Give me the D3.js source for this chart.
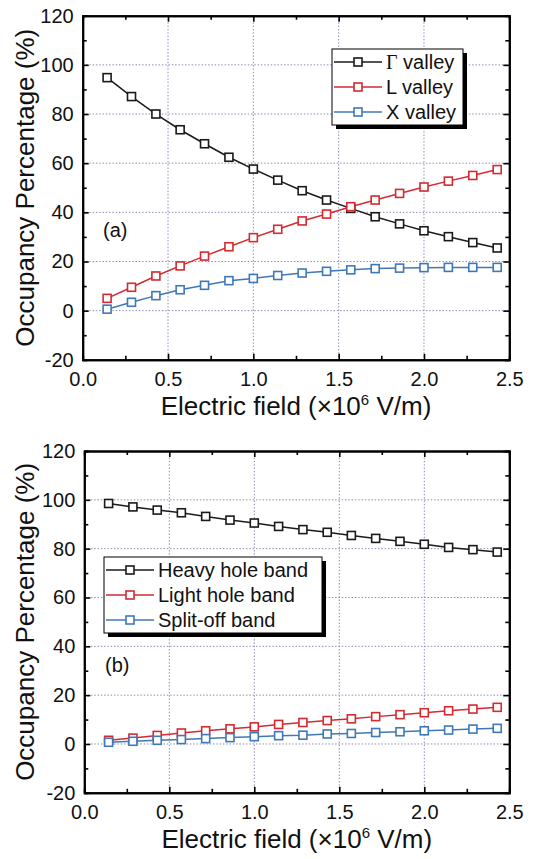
<!DOCTYPE html>
<html>
<head>
<meta charset="utf-8">
<script src="https://cdn.jsdelivr.net/npm/d3@7"></script>
<style>
  body { margin: 0; background: #fff; }
  svg { display: block; font-family: "Liberation Sans", Arial, sans-serif; }
</style>
</head>
<body>
<svg id="chart" width="541" height="859"></svg>
<script>
// electric field (x10^6 V/m)
const fieldValues = [0.143, 0.286, 0.429, 0.571, 0.714, 0.857, 1.0, 1.143, 1.286,
  1.429, 1.571, 1.714, 1.857, 2.0, 2.143, 2.286, 2.429];

// panel (a): electrons
const gammaValley = [94.8, 87.1, 80.0, 73.6, 67.9, 62.4, 57.6, 53.1, 48.8, 45.0, 41.6, 38.2, 35.3, 32.5, 30.1, 27.7, 25.5];
const lValley = [5.0, 9.5, 14.1, 18.2, 22.2, 26.0, 29.7, 33.1, 36.5, 39.3, 42.3, 45.0, 47.7, 50.3, 52.7, 55.0, 57.4];
const xValley = [0.6, 3.4, 6.1, 8.5, 10.3, 12.2, 13.1, 14.3, 15.3, 16.0, 16.6, 17.1, 17.3, 17.5, 17.6, 17.6, 17.6];

// panel (b): holes
const heavyHole = [98.5, 97.1, 95.8, 94.7, 93.2, 91.7, 90.5, 89.1, 87.8, 86.7, 85.4, 84.2, 83.0, 81.8, 80.5, 79.6, 78.6];
const lightHole = [1.5, 2.4, 3.5, 4.5, 5.4, 6.2, 7.0, 8.0, 8.8, 9.6, 10.3, 11.2, 12.0, 12.8, 13.6, 14.3, 15.0];
const splitOff = [0.7, 1.1, 1.5, 1.8, 2.2, 2.6, 3.0, 3.4, 3.6, 4.1, 4.3, 4.7, 5.0, 5.4, 5.7, 6.1, 6.4];

const xTicks = [0.0, 0.5, 1.0, 1.5, 2.0, 2.5];
const xMinorTicks = [0.25, 0.75, 1.25, 1.75, 2.25];
const yTicks = [-20, 0, 20, 40, 60, 80, 100, 120];
const yMinorTicks = [-10, 10, 30, 50, 70, 90, 110];

const colors = { black: "#1a1a1a", red: "#d42a30", blue: "#3f78b8" };

const svg = d3.select("#chart");

function drawPanel(p) {
  let g = svg.append("g");
  let x = d3.scaleLinear().domain([0, 2.5]).range([p.left, p.right]);
  let y = d3.scaleLinear().domain([-20, 120]).range([p.bottom, p.top]);

  // dotted grid
  g.append("g").selectAll("line.gx")
    .data(xTicks.slice(1, -1))
    .enter().append("line")
    .attr("x1", d => x(d)).attr("x2", d => x(d))
    .attr("y1", p.top).attr("y2", p.bottom)
    .attr("stroke", "#8d8fb5").attr("stroke-width", 1)
    .attr("stroke-dasharray", "1.5,1.8");
  g.append("g").selectAll("line.gy")
    .data(yTicks.slice(1, -1))
    .enter().append("line")
    .attr("x1", p.left).attr("x2", p.right)
    .attr("y1", d => y(d)).attr("y2", d => y(d))
    .attr("stroke", "#8d8fb5").attr("stroke-width", 1)
    .attr("stroke-dasharray", "1.5,1.8");

  // series
  let line = d3.line().x(d => x(d[0])).y(d => y(d[1]));
  p.series.forEach(s => {
    let pts = fieldValues.map((f, i) => [f, s.values[i]]);
    g.append("path")
      .datum(pts)
      .attr("d", line)
      .attr("fill", "none")
      .attr("stroke", s.color)
      .attr("stroke-width", 1.5);
    g.selectAll(null)
      .data(pts)
      .enter().append("rect")
      .attr("x", d => x(d[0]) - 4)
      .attr("y", d => y(d[1]) - 4)
      .attr("width", 8).attr("height", 8)
      .attr("fill", "#fff")
      .attr("stroke", s.color)
      .attr("stroke-width", 1.6);
  });

  // axes, ticks inward
  const styleAxis = sel => {
    sel.attr("font-family", null).attr("font-size", null);
    sel.select(".domain").attr("stroke", "#000").attr("stroke-width", 2);
    sel.selectAll(".tick line").attr("stroke", "#000").attr("stroke-width", 1.6);
    sel.selectAll("text").attr("fill", "#111").style("font-size", "20px");
  };

  g.append("g")
    .attr("transform", `translate(0,${p.bottom})`)
    .call(d3.axisBottom(x).tickValues(xTicks).tickSize(-6).tickSizeOuter(0)
      .tickPadding(12).tickFormat(d3.format(".1f")))
    .call(styleAxis);
  g.append("g")
    .attr("transform", `translate(0,${p.bottom})`)
    .call(d3.axisBottom(x).tickValues(xMinorTicks).tickSize(-4).tickFormat(""))
    .call(styleAxis);
  g.append("g")
    .attr("transform", `translate(0,${p.top})`)
    .call(d3.axisTop(x).tickValues(xTicks).tickSize(-6).tickSizeOuter(0).tickFormat(""))
    .call(styleAxis);
  g.append("g")
    .attr("transform", `translate(0,${p.top})`)
    .call(d3.axisTop(x).tickValues(xMinorTicks).tickSize(-4).tickFormat(""))
    .call(styleAxis);
  g.append("g")
    .attr("transform", `translate(${p.left},0)`)
    .call(d3.axisLeft(y).tickValues(yTicks).tickSize(-6).tickSizeOuter(0).tickPadding(9)
      .tickFormat(d => String(d)))
    .call(styleAxis);
  g.append("g")
    .attr("transform", `translate(${p.left},0)`)
    .call(d3.axisLeft(y).tickValues(yMinorTicks).tickSize(-4).tickFormat(""))
    .call(styleAxis);
  g.append("g")
    .attr("transform", `translate(${p.right},0)`)
    .call(d3.axisRight(y).tickValues(yTicks).tickSize(-6).tickSizeOuter(0).tickFormat(""))
    .call(styleAxis);
  g.append("g")
    .attr("transform", `translate(${p.right},0)`)
    .call(d3.axisRight(y).tickValues(yMinorTicks).tickSize(-4).tickFormat(""))
    .call(styleAxis);

  // axis titles
  let xt = g.append("text")
    .attr("x", (p.left + p.right) / 2)
    .attr("y", p.bottom + 55)
    .attr("text-anchor", "middle")
    .style("font-size", "26px").attr("fill", "#111");
  xt.append("tspan").text("Electric field (\u00d710");
  xt.append("tspan").attr("dy", -10).style("font-size", "15px").text("6");
  xt.append("tspan").attr("dy", 10).text(" V/m)");

  g.append("text")
    .attr("transform", `translate(34,${(p.top + p.bottom) / 2}) rotate(-90)`)
    .attr("text-anchor", "middle")
    .style("font-size", "26px").attr("fill", "#111")
    .text("Occupancy Percentage (%)");

  // panel label
  g.append("text")
    .attr("x", p.labelX).attr("y", p.labelY)
    .style("font-size", "20px").attr("fill", "#111")
    .text(p.label);

  // legend
  let lg = p.legend;
  g.append("rect")
    .attr("x", lg.x + 4).attr("y", lg.y + 4)
    .attr("width", lg.w).attr("height", lg.h)
    .attr("fill", "#000");
  g.append("rect")
    .attr("x", lg.x).attr("y", lg.y)
    .attr("width", lg.w).attr("height", lg.h)
    .attr("fill", "#fff").attr("stroke", "#000").attr("stroke-width", 1);
  p.series.forEach((s, i) => {
    let cy = lg.y + 13 + i * 25;
    g.append("line")
      .attr("x1", lg.x + 2).attr("x2", lg.x + 50)
      .attr("y1", cy).attr("y2", cy)
      .attr("stroke", s.color).attr("stroke-width", 1.5);
    g.append("rect")
      .attr("x", lg.x + 26 - 4).attr("y", cy - 4)
      .attr("width", 8).attr("height", 8)
      .attr("fill", "#fff").attr("stroke", s.color).attr("stroke-width", 1.6);
    let t = g.append("text")
      .attr("x", lg.x + 54).attr("y", cy + 7)
      .style("font-size", "20px").attr("fill", "#111");
    if (s.greek) {
      t.append("tspan").style("font-family", "'Liberation Serif', serif").text(s.greek);
      t.append("tspan").text(s.name);
    } else {
      t.text(s.name);
    }
  });
}

drawPanel({
  left: 82.7, right: 509.3, top: 15.7, bottom: 359.8,
  label: "(a)", labelX: 103, labelY: 237,
  legend: { x: 332, y: 49, w: 131, h: 76 },
  series: [
    { greek: "\u0393", name: " valley", values: gammaValley, color: colors.black },
    { name: "L valley", values: lValley, color: colors.red },
    { name: "X valley", values: xValley, color: colors.blue }
  ]
});

drawPanel({
  left: 84.3, right: 509.3, top: 451, bottom: 792.8,
  label: "(b)", labelX: 105, labelY: 672,
  legend: { x: 104, y: 557, w: 218, h: 76 },
  series: [
    { name: "Heavy hole band", values: heavyHole, color: colors.black },
    { name: "Light hole band", values: lightHole, color: colors.red },
    { name: "Split-off band", values: splitOff, color: colors.blue }
  ]
});
</script>
</body>
</html>
